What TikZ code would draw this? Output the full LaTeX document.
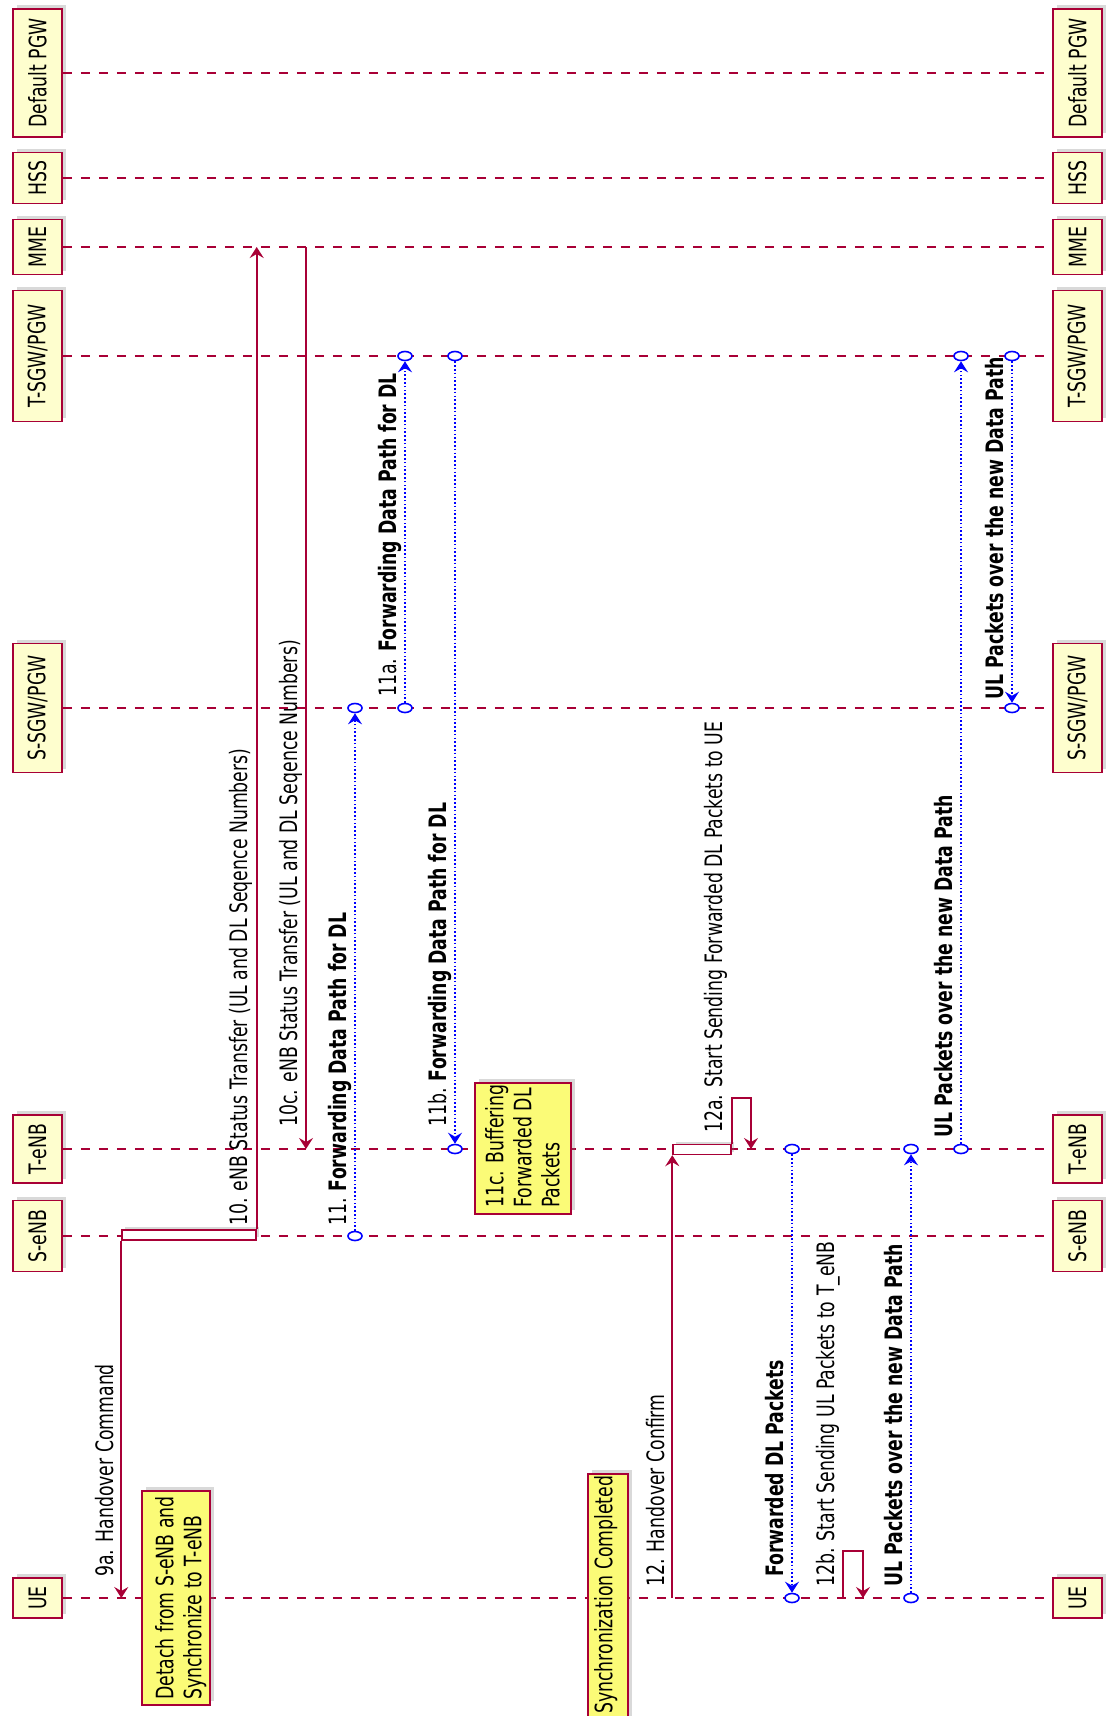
\documentclass[tikz,border=0pt]{standalone}
\usepackage{fontspec}
\setmainfont{DejaVu Sans}[FakeStretch=0.72]
\usepackage{tikz}
\usetikzlibrary{arrows.meta}
\usetikzlibrary{shapes}
\usetikzlibrary{shadows}
\usetikzlibrary{calc}
\definecolor{umlred}{HTML}{A80036}
\definecolor{umlbox}{HTML}{FEFECE}
\definecolor{umlnote}{HTML}{FBFB77}
\definecolor{umlblue}{HTML}{0000FF}

\begin{document}
\begin{tikzpicture}[
  x=1pt, y=-1pt,
  font=\fontsize{24}{28}\selectfont,
  lifeline/.style={
    umlred, line width=1.3pt, dash pattern=on 9pt off 9pt
  },
  actor/.style={
    rectangle,
    draw=umlred,
    fill=umlbox,
    line width=1.6pt,
    minimum width=49pt,
    minimum height=#1pt,
    inner sep=0pt,
    drop shadow={shadow xshift=4pt, shadow yshift=4pt, opacity=.3}},
  activ/.style={
    rectangle,
    draw=umlred,
    fill=white,
    line width=1.4pt,
    minimum width=#1pt,
    minimum height=10pt,
    inner sep=0pt,
    drop shadow={shadow xshift=3pt, shadow yshift=3pt, opacity=.3}},
  note/.style 2 args={
    rectangle,
    draw=umlred,
    fill=umlnote,
    line width=1.4pt,
    minimum width=#1pt,
    minimum height=#2pt,
    inner sep=0pt,
    drop shadow={shadow xshift=4pt, shadow yshift=4pt, opacity=.3}},
  port/.style={
    ellipse, draw=umlblue, fill=white, line width=1.6pt,
    minimum width=14pt, minimum height=9pt, inner sep=0pt
  },
  msg/.style ={
    -{Stealth[length=11pt,width=14pt,inset=4pt]}, umlred, line width=1.8pt
  },
  data/.style ={
    -{Stealth[length=11pt,width=14pt,inset=4pt]}, umlblue, line width=1.6pt,
    dash pattern=on 1.6pt off 2.2pt
  },
  lbl/.style={rotate=90, anchor=base west, inner sep=0pt},
  ntxt/.style={rotate=90, anchor=north west, inner sep=0pt, align=left},
]

  \useasboundingbox (0,0) rectangle (1111,1716);

    % Participants, left and right copies with their lifelines
  \foreach \nm/\py/\ph/\txt in {dpgw/73/128/Default PGW, hss/178/51/HSS,
        mme/247/55/MME, tsgw/356/131/{T-SGW/PGW}, ssgw/708/129/{S-SGW/PGW},
        tenb/1149/68/T-eNB, senb/1236/71/S-eNB, ue/1598/40/UE} {
    \node[actor=\ph] (\nm L) at (37.5,\py) {};
    \node[rotate=90] (\nm Lt) at (\nm L) {\txt};
    \node[actor=\ph] (\nm R) at (1077.5,\py) {};
    \node[rotate=90] (\nm Rt) at (\nm R) {\txt};
    \draw[lifeline] (\nm L.east) -- (\nm R.west);
  }

    % Activations
  \node[activ=134] (actS) at (189,1235) {};
  \node[activ=58] (actT) at (702,1149.5) {};

    % 9a. Handover Command
  \coordinate (m9a) at (actS.south west |- ueL);
  \draw[msg] (actS.south west) -- (m9a);
  \node[lbl] (l9a) at (113,1577) {9a. Handover Command};

  \node[note={68}{214}] (nDetach) at (176,1598) {};
  \node[ntxt] (nDetacht) at (155,1700) {Detach from S-eNB and\\Synchronize to T-eNB};

    % 10. and 10c. status transfer
  \coordinate (m10) at (actS.north east |- mmeL);
  \draw[msg] (actS.north east) -- (m10);
  \node[lbl] (l10) at (247,1226)
    {10. eNB Status Transfer (UL and DL Seqence Numbers)};

  \coordinate (m10cs) at (306,0 |- mmeL);
  \coordinate (m10ce) at (306,0 |- tenbL);
  \draw[msg] (m10cs) -- (m10ce);
  \node[lbl] (l10c) at (297,1127)
    {10c. eNB Status Transfer (UL and DL Seqence Numbers)};

    % 11. forwarding path
  \foreach \nm/\px/\from/\to in {p11/355/senbL/ssgwL, p11a/405/ssgwL/tsgwL,
        p11b/455/tsgwL/tenbL, pfw/792/tenbL/ueL, pul1/911/ueL/tenbL,
        pul2/961/tenbL/tsgwL, pul3/1012/tsgwL/ssgwL} {
    \node[port] (\nm s) at (\px,0 |- \from) {};
    \node[port] (\nm e) at (\px,0 |- \to) {};
    \draw[data] (\nm s) -- (\nm e);
  }
  \node[lbl] (l11) at (346,1226) {11. \textbf{Forwarding Data Path for DL}};
  \node[lbl] (l11a) at (396,697) {11a. \textbf{Forwarding Data Path for DL}};
  \node[lbl] (l11b) at (446,1127) {11b. \textbf{Forwarding Data Path for DL}};

  \node[note={96}{131}] (nBuf) at (523,1148.5) {};
  \node[ntxt] (nBuft) at (485,1208) {11c. Buffering\\Forwarded DL\\Packets};

    % 12. Handover Confirm
  \coordinate (m12) at (actT.south west |- ueL);
  \draw[msg] (m12) -- (actT.south west);
  \node[lbl] (l12) at (664,1587) {12. Handover Confirm};

  \node[note={40}{248}] (nSync) at (608,1598) {};
  \node[ntxt] (nSynct) at (594,1714) {Synchronization Completed};

    % 12a. self message on T-eNB
  \coordinate (s12a) at (751,1098);
  \coordinate (s12ae) at (s12a |- tenbL);
  \draw[msg] (actT.north east) |- (s12a) -- (s12ae);
  \node[lbl] (l12a) at (722,1133) {12a. Start Sending Forwarded DL Packets to UE};

  \node[lbl] (lfw) at (783,1577) {\textbf{Forwarded DL Packets}};

    % 12b. self message on UE
  \coordinate (s12bs) at (843,0 |- ueL);
  \coordinate (s12b) at (863,1551);
  \coordinate (s12be) at (s12b |- ueL);
  \draw[msg] (s12bs) |- (s12b) -- (s12be);
  \node[lbl] (l12b) at (834,1587) {12b. Start Sending UL Packets to T\_eNB};

    % UL over the new path
  \node[lbl] (lul1) at (902,1587) {\textbf{UL Packets over the new Data Path}};
  \node[lbl] (lul2) at (952,1138) {\textbf{UL Packets over the new Data Path}};
  \node[lbl] (lul3) at (1003,700) {\textbf{UL Packets over the new Data Path}};

\end{tikzpicture}
\end{document}
